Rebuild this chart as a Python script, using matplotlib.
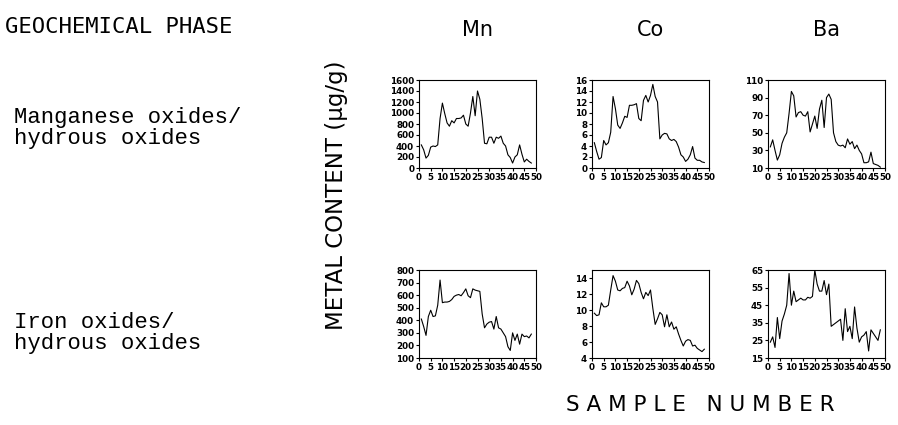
import matplotlib
matplotlib.use("Agg")
import matplotlib.pyplot as plt

# ── Data ──────────────────────────────────────────────────────────────────────
SAMPLES = list(range(1, 49))

mn_mnox = [420, 330, 180, 230, 380, 400, 390, 420, 900, 1180, 990, 820,
           760, 860, 820, 900, 900, 910, 960, 800, 760, 1000, 1300, 950,
           1400, 1250, 900, 450, 440, 560, 560, 450, 560, 540, 580, 450,
           400, 240, 190, 90, 200, 240, 420, 250, 110, 160, 120, 90]
co_mnox = [4.6, 3.0, 1.6, 1.9, 5.0, 4.2, 4.6, 6.5, 13.0, 10.8, 7.8, 7.2,
           8.2, 9.4, 9.2, 11.4, 11.4, 11.5, 11.7, 9.0, 8.6, 12.3, 13.2, 12.0,
           13.2, 15.2, 13.0, 12.0, 5.3, 6.0, 6.3, 6.2, 5.3, 5.0, 5.2, 4.8,
           3.8, 2.4, 2.0, 1.2, 1.6, 2.4, 3.9, 1.8, 1.4, 1.4, 1.1, 1.0]
ba_mnox = [34, 42, 30, 19, 25, 38, 45, 50, 72, 97, 92, 68,
           73, 74, 70, 69, 74, 51, 60, 69, 55, 77, 87, 56,
           90, 94, 88, 50, 40, 36, 35, 36, 33, 43, 37, 40,
           32, 36, 30, 26, 16, 16, 17, 28, 15, 14, 13, 11]

mn_feox = [410, 350, 280, 430, 480, 430, 435, 520, 720, 540, 545, 545,
           550, 565, 590, 600, 605, 595, 620, 650, 595, 580, 650, 640,
           635, 630, 450, 340, 370, 385, 390, 330, 430, 340, 330, 300,
           270, 190, 160, 300, 240, 290, 210, 290, 270, 275, 260, 290]
co_feox = [9.6, 9.3, 9.4, 10.9, 10.4, 10.4, 10.6, 12.5, 14.3, 13.6, 12.5, 12.4,
           12.7, 12.8, 13.6, 13.0, 11.9, 12.6, 13.7, 13.3, 12.2, 11.4, 12.2, 11.8,
           12.5, 10.2, 8.2, 8.9, 9.7, 9.4, 7.9, 9.4, 7.9, 8.5, 7.6, 7.9,
           7.0, 6.2, 5.5, 6.1, 6.3, 6.2, 5.5, 5.6, 5.2, 5.0, 4.8, 5.1]
ba_feox = [24, 27, 21, 38, 26, 36, 40, 45, 63, 45, 53, 47,
           48, 49, 48, 48, 49.5, 49, 50, 65, 57, 53, 53, 59,
           51, 57, 33, 34, 35, 36, 37, 25, 43, 30, 33, 26,
           44, 32, 24, 27, 28, 30, 19, 31, 29, 27, 25, 31]

METALS = ["Mn", "Co", "Ba"]
PHASES = ["Manganese oxides/\nhydrous oxides", "Iron oxides/\nhydrous oxides"]
SERIES = [[mn_mnox, co_mnox, ba_mnox],
          [mn_feox, co_feox, ba_feox]]
YLIMS = [[(0, 1600), (0, 16), (10, 110)],
         [(100, 800), (4, 15), (15, 65)]]
YTICKS = [[list(range(0, 1601, 200)), list(range(0, 17, 2)), list(range(10, 111, 20))],
          [list(range(100, 801, 100)), list(range(4, 15, 2)), list(range(15, 66, 10))]]
XTICKS = list(range(0, 51, 5))

# ── Layout (figure pixels) ────────────────────────────────────────────────────
W, H = 898, 425
COL_LEFT = [419, 592, 768]
AX_W = 117
ROW_TOP = [80, 270]
AX_H = 88
PHASE_Y = [128, 333]

fig = plt.figure(figsize=(W / 100, H / 100), dpi=100)
fig.patch.set_facecolor("white")

for r in range(2):
    for c in range(3):
        ax = fig.add_axes([COL_LEFT[c] / W, 1 - (ROW_TOP[r] + AX_H) / H,
                           AX_W / W, AX_H / H])
        ax.plot(SAMPLES, SERIES[r][c], color="black", linewidth=0.8)
        ax.set_xlim(0, 50)
        ax.set_ylim(*YLIMS[r][c])
        ax.set_xticks(XTICKS)
        ax.set_yticks(YTICKS[r][c])
        ax.tick_params(direction="out", length=2.5, width=0.8, pad=1,
                       labelsize=6.3)
        for lab in ax.get_xticklabels() + ax.get_yticklabels():
            lab.set_fontweight("bold")
        for sp in ax.spines.values():
            sp.set_linewidth(0.8)

# ── Text ──────────────────────────────────────────────────────────────────────
fig.text(5 / W, 1 - 27 / H, "GEOCHEMICAL PHASE", fontsize=16,
         family="DejaVu Sans Mono", va="center", ha="left")
for c, metal in enumerate(METALS):
    fig.text((COL_LEFT[c] + AX_W / 2) / W, 1 - 30 / H, metal, fontsize=15,
             va="center", ha="center")
for r, phase in enumerate(PHASES):
    fig.text(14 / W, 1 - PHASE_Y[r] / H, phase, fontsize=16,
             family="Liberation Mono", va="center", ha="left", linespacing=0.95)
fig.text(337 / W, 1 - 195 / H, "METAL CONTENT (µg/g)", fontsize=16.5,
         rotation=90, va="center", ha="center")
fig.text(700 / W, 1 - 405 / H, "S A M P L E   N U M B E R", fontsize=15.5,
         va="center", ha="center")

fig.savefig("out.png", dpi=100)
